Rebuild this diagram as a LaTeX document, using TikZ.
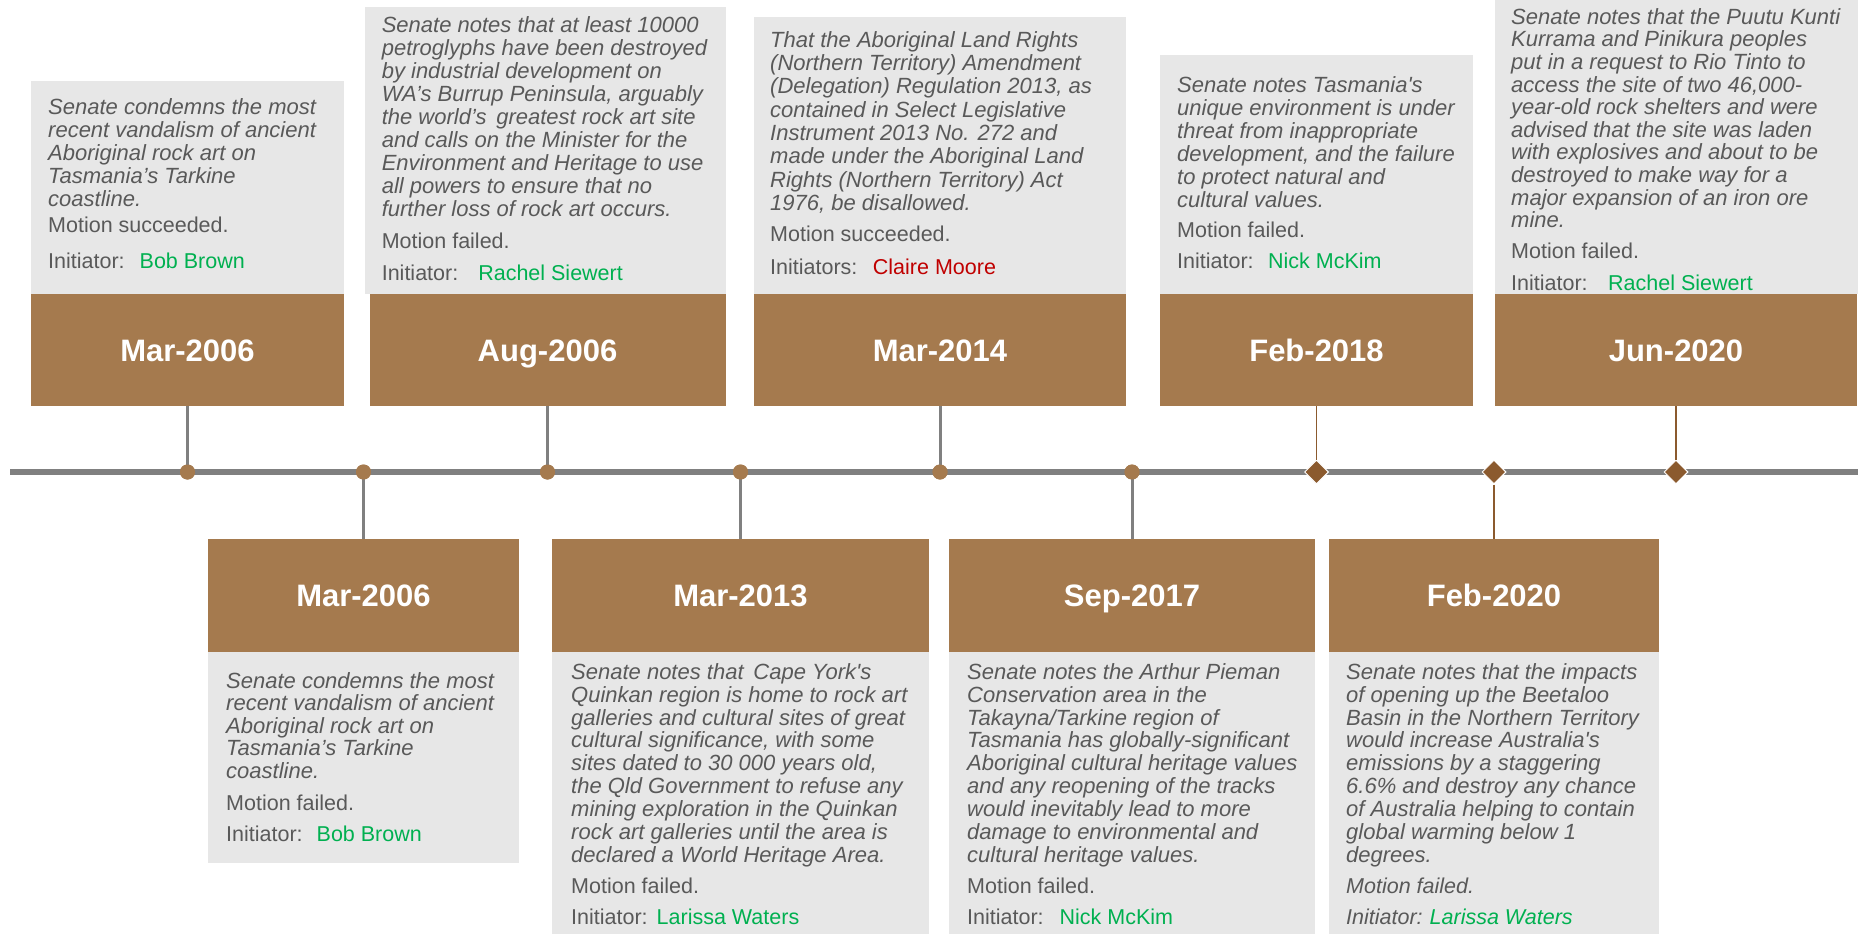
\documentclass[tikz,border=0pt]{standalone}
\usepackage{fontspec}
\setmainfont{Liberation Sans}
\usetikzlibrary{shapes.geometric}
\definecolor{boxbrown}{HTML}{A57A4E}
\definecolor{dkbrown}{HTML}{8B5A2E}
\definecolor{boxgrey}{HTML}{E7E7E7}
\definecolor{txtgrey}{HTML}{595959}
\definecolor{linegrey}{HTML}{808080}
\definecolor{pgreen}{HTML}{00B050}
\definecolor{pred}{HTML}{C00000}
\begin{document}
\begin{tikzpicture}[x=1pt,y=-1pt,
  greybox/.style={fill=boxgrey,draw=none,inner sep=0,anchor=north west},
  datebox/.style={fill=boxbrown,draw=none,inner sep=0,text=white,
     text height=22.5pt,text depth=0pt,
     font=\fontsize{31}{31}\selectfont\bfseries},
  body/.style={anchor=north west,inner sep=0,align=left,text=txtgrey,
     font=\fontsize{22}{23}\selectfont\itshape},
  plain/.style={anchor=base west,inner sep=0,text=txtgrey,
     font=\fontsize{21.5}{21.5}\selectfont},
  dot/.style={circle,fill=boxbrown,draw=none,minimum size=15,inner sep=0},
  dia/.style={diamond,fill=dkbrown,draw=white,line width=1,minimum size=24,inner sep=0},
  greyconn/.style={draw=linegrey,line width=3},
  brownconn/.style={draw=dkbrown,line width=1.5},
  timeline/.style={draw=linegrey,line width=6}
]
\useasboundingbox (0,0) rectangle (1858,934);
\clip (0,0) rectangle (1858,934);

% ---------- grey boxes ----------
\node[greybox,minimum width=313,minimum height=213] (g1) at (31,81) {};
\node[greybox,minimum width=361,minimum height=287] (g2) at (365,7) {};
\node[greybox,minimum width=372,minimum height=277] (g3) at (754,17) {};
\node[greybox,minimum width=313,minimum height=239] (g4) at (1160,55) {};
\node[greybox,minimum width=363,minimum height=294] (g5) at (1495,0) {};
\node[greybox,minimum width=311,minimum height=211] (gA) at (208,652) {};
\node[greybox,minimum width=377,minimum height=282] (gB) at (552,652) {};
\node[greybox,minimum width=366,minimum height=282] (gC) at (949,652) {};
\node[greybox,minimum width=330,minimum height=282] (gD) at (1329,652) {};

% ---------- texts top ----------
\node[body] (t1) at (48,97) {\rule{0pt}{17pt}Senate condemns the most\\recent vandalism of ancient\\Aboriginal rock art on\\Tasmania's Tarkine\\coastline.};
\node[plain] (s1) at (48,232) {Motion succeeded.};
\node[plain] (i1) at (48,268) {Initiator:\hspace{15pt}\textcolor{pgreen}{Bob Brown}};

\node[body] (t2) at (381.6,15) {\rule{0pt}{17pt}Senate notes that at least 10000\\petroglyphs have been destroyed\\by industrial development on\\WA's Burrup Peninsula, arguably\\the world's\, greatest rock art site\\and calls on the Minister for the\\Environment and Heritage to use\\all powers to ensure that no\\further loss of rock art occurs.};
\node[plain] (s2) at (381.6,248) {Motion failed.};
\node[plain] (i2) at (381.6,280) {Initiator:\hspace{20pt}\textcolor{pgreen}{Rachel Siewert}};

\node[body,font=\fontsize{22}{23.3}\selectfont\itshape] (t3) at (770,30) {\rule{0pt}{17pt}That the Aboriginal Land Rights\\(Northern Territory) Amendment\\(Delegation) Regulation 2013, as\\contained in Select Legislative\\Instrument 2013 No. 272 and\\made under the Aboriginal Land\\Rights (Northern Territory) Act\\1976, be disallowed.};
\node[plain] (s3) at (770,241) {Motion succeeded.};
\node[plain] (i3) at (770,274) {Initiators:\hspace{15.5pt}\textcolor{pred}{Claire Moore}};

\node[body] (t4) at (1177,75) {\rule{0pt}{17pt}Senate notes Tasmania\textquotesingle s\\unique environment is under\\threat from inappropriate\\development, and the failure\\to protect natural and\\cultural values.};
\node[plain] (s4) at (1177,237) {Motion failed.};
\node[plain] (i4) at (1177,268) {Initiator:\hspace{14.5pt}\textcolor{pgreen}{Nick McKim}};

\node[body,font=\fontsize{22}{22.6}\selectfont\itshape] (t5) at (1511,7) {\rule{0pt}{17pt}Senate notes that the Puutu Kunti\\Kurrama and Pinikura peoples\\put in a request to Rio Tinto to\\access the site of two 46,000-\\year-old rock shelters and were\\advised that the site was laden\\with explosives and about to be\\destroyed to make way for a\\major expansion of an iron ore\\mine.};
\node[plain] (s5) at (1511,258) {Motion failed.};
\node[plain] (i5) at (1511,290) {Initiator:\hspace{20.5pt}\textcolor{pgreen}{Rachel Siewert}};

% ---------- texts bottom ----------
\node[body,font=\fontsize{22}{22.5}\selectfont\itshape] (tA) at (226,671) {\rule{0pt}{17pt}Senate condemns the most\\recent vandalism of ancient\\Aboriginal rock art on\\Tasmania's Tarkine\\coastline.};
\node[plain] (sA) at (226,810) {Motion failed.};
\node[plain] (iA) at (226,841) {Initiator:\hspace{14pt}\textcolor{pgreen}{Bob Brown}};

\node[body,font=\fontsize{22}{22.9}\selectfont\itshape] (tB) at (571,662) {\rule{0pt}{17pt}Senate notes that\, Cape York\textquotesingle s\\Quinkan region is home to rock art\\galleries and cultural sites of great\\cultural significance, with some\\sites dated to 30 000 years old,\\the Qld Government to refuse any\\mining exploration in the Quinkan\\rock art galleries until the area is\\declared a World Heritage Area.};
\node[plain] (sB) at (571,893) {Motion failed.};
\node[plain] (iB) at (571,924) {Initiator:\hspace{9pt}\textcolor{pgreen}{Larissa Waters}};

\node[body,font=\fontsize{22}{22.9}\selectfont\itshape] (tC) at (967,662) {\rule{0pt}{17pt}Senate notes the Arthur Pieman\\Conservation area in the\\Takayna/Tarkine region of\\Tasmania has globally-significant\\Aboriginal cultural heritage values\\and any reopening of the tracks\\would inevitably lead to more\\damage to environmental and\\cultural heritage values.};
\node[plain] (sC) at (967,893) {Motion failed.};
\node[plain] (iC) at (967,924) {Initiator:\hspace{16pt}\textcolor{pgreen}{Nick McKim}};

\node[body,font=\fontsize{22}{22.9}\selectfont\itshape] (tD) at (1346,662) {\rule{0pt}{17pt}Senate notes that the impacts\\of opening up the Beetaloo\\Basin in the Northern Territory\\would increase Australia\textquotesingle s\\emissions by a staggering\\6.6\% and destroy any chance\\of Australia helping to contain\\global warming below 1\\degrees.};
\node[plain,font=\fontsize{21.5}{21.5}\selectfont\itshape] (sD) at (1346,893) {Motion failed.};
\node[plain,font=\fontsize{21.5}{21.5}\selectfont\itshape] (iD) at (1346,924) {Initiator:\hspace{7pt}\textcolor{pgreen}{Larissa Waters}};

% ---------- date boxes ----------
\node[datebox,minimum width=313,minimum height=112] (d1) at (187.5,350) {Mar-2006};
\node[datebox,minimum width=356,minimum height=112] (d2) at (547.5,350) {Aug-2006};
\node[datebox,minimum width=372,minimum height=112] (d3) at (940,350) {Mar-2014};
\node[datebox,minimum width=313,minimum height=112] (d4) at (1316.5,350) {Feb-2018};
\node[datebox,minimum width=362,minimum height=112] (d5) at (1676,350) {Jun-2020};
\node[datebox,minimum width=311,minimum height=113] (dA) at (363.5,595.5) {Mar-2006};
\node[datebox,minimum width=377,minimum height=113] (dB) at (740.5,595.5) {Mar-2013};
\node[datebox,minimum width=366,minimum height=113] (dC) at (1132,595.5) {Sep-2017};
\node[datebox,minimum width=330,minimum height=113] (dD) at (1494,595.5) {Feb-2020};

% ---------- timeline ----------
\coordinate (tls) at (10,472);
\coordinate (tle) at (1858,472);
\draw[timeline] (tls) -- (tle);

\node[dot] (m1) at (187.5,472) {};
\node[dot] (mA) at (363.5,472) {};
\node[dot] (m2) at (547.5,472) {};
\node[dot] (mB) at (740.5,472) {};
\node[dot] (m3) at (940,472) {};
\node[dot] (mC) at (1132,472) {};
\node[dia] (m4) at (1316.5,472) {};
\node[dia] (mD) at (1494,472) {};
\node[dia] (m5) at (1676,472) {};

% ---------- connectors ----------
\draw[greyconn] (d1.south) -- (m1.center);
\draw[greyconn] (d2.south) -- (m2.center);
\draw[greyconn] (d3.south) -- (m3.center);
\draw[brownconn] (d4.south) -- (m4.north);
\draw[brownconn] (d5.south) -- (m5.north);
\draw[greyconn] (mA.center) -- (dA.north);
\draw[greyconn] (mB.center) -- (dB.north);
\draw[greyconn] (mC.center) -- (dC.north);
\draw[brownconn] (mD.south) -- (dD.north);

% dots on top of connectors
\node[dot] at (m1) {};
\node[dot] at (mA) {};
\node[dot] at (m2) {};
\node[dot] at (mB) {};
\node[dot] at (m3) {};
\node[dot] at (mC) {};
\end{tikzpicture}
\end{document}
